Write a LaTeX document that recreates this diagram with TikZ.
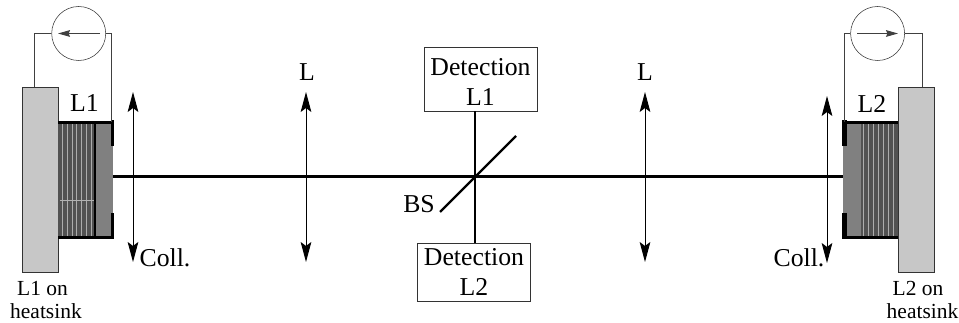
\documentclass[tikz,border=0pt]{standalone}
\usepackage{fontspec}
\setmainfont{Liberation Serif}
\usetikzlibrary{positioning, arrows.meta}

\tikzset{
  sink/.style={draw=black!80, fill=black!22, minimum width=27pt, minimum height=138.75pt, inner sep=0pt},
  chip/.style={fill=black!50, minimum width=13pt, minimum height=87pt, inner sep=0pt},
  stack/.style={fill=black!68, minimum width=28pt, minimum height=87pt, inner sep=0pt},
  pad/.style={fill=black, minimum height=19.5pt, inner sep=0pt},
  meter/.style={circle, draw=black!80, minimum size=40.5pt, inner sep=0pt},
  detbox/.style={draw=black!80, fill=white, inner sep=0pt, minimum width=84.75pt, align=center, font=\fontsize{19.3pt}{22.3pt}\selectfont},
  lens/.style={line width=0.7pt, {Stealth[length=15pt,width=8pt,inset=3pt]}-{Stealth[length=15pt,width=8pt,inset=3pt]}},
  wire/.style={draw=black!75, line width=0.7pt},
  stripe/.style={black!32, line width=0.75pt},
  edge/.style={line width=1.9pt},
  beam/.style={line width=1.6pt},
  big/.style={inner sep=0pt, font=\fontsize{19.3pt}{22pt}\selectfont},
  small/.style={inner sep=0pt, align=left, font=\fontsize{16.1pt}{17.25pt}\selectfont},
}

\begin{document}
\begin{tikzpicture}[x=0.75pt, y=-0.75pt]
  \useasboundingbox (0, 0) rectangle (959, 323);

  % left source
  \node[sink] (sink1) at (40, 179.5) {};
  \node[stack] (stack1) at (76.5, 180) {};
  \foreach \i in {62, 67, 72, 76, 81, 86, 91}
    \draw[stripe] (\i, 123) -- (\i, 237);
  \draw[black!30, line width=0.4pt] (60, 200) -- (95, 200);
  \node[chip] (chip1) at (104, 180) {};
  \draw[line width=1.1pt] (95, 122) -- (95, 238);
  \draw[edge] (58, 122.5) -- (113, 122.5);
  \draw[edge] (58, 237.5) -- (113, 237.5);
  \node[pad, minimum width=2pt] (pad1a) at (112.2, 133) {};
  \node[pad, minimum width=2pt] (pad1b) at (112.2, 226) {};

  % right source
  \node[sink] (sink2) at (916, 179.5) {};
  \node[stack] (stack2) at (879.5, 180) {};
  \foreach \i in {863, 868, 873, 878, 883, 888, 893}
    \draw[stripe] (\i, 123) -- (\i, 237);
  \node[chip] (chip2) at (852, 180) {};
  \draw[edge] (843, 122.5) -- (898, 122.5);
  \draw[edge] (843, 237.5) -- (898, 237.5);
  \node[pad, minimum width=3.75pt] (pad2a) at (844.5, 133) {};
  \node[pad, minimum width=3.75pt] (pad2b) at (844.5, 226) {};

  % meters
  \node[meter] (meter1) at (78.7, 33.5) {};
  \node[meter] (meter2) at (877.6, 33.5) {};
  \coordinate (m1w) at (34, 33.5);
  \coordinate (m1e) at (111, 33.5);
  \coordinate (m2w) at (844, 33.5);
  \coordinate (m2e) at (922, 33.5);
  \draw[wire] (meter1.west) -- (m1w) -- (m1w |- sink1.north);
  \draw[wire] (meter1.east) -- (m1e) -- (m1e |- stack1.north);
  \draw[wire] (meter2.west) -- (m2w) -- (m2w |- stack2.north);
  \draw[wire] (meter2.east) -- (m2e) -- (m2e |- sink2.north);
  \coordinate (a1s) at (100, 33.5);
  \coordinate (a1e) at (58, 33.5);
  \coordinate (a2s) at (857, 33.5);
  \coordinate (a2e) at (898, 33.5);
  \draw[wire, -{Stealth[length=9pt,width=5pt,inset=1pt]}] (a1s) -- (a1e);
  \draw[wire, -{Stealth[length=9pt,width=5pt,inset=1pt]}] (a2s) -- (a2e);

  % detection
  \node[detbox, minimum height=48pt] (det1) at (480.5, 79) {\rule{0pt}{17.5pt}Detection\\L1};
  \node[detbox, minimum height=43.5pt] (det2) at (474, 272) {Detection\\L2};
  \coordinate (bs) at (475, 176.5);
  \coordinate (bsa) at (440, 212);
  \coordinate (bsb) at (516, 136);
  \draw[beam] (chip1.east |- bs) -- (chip2.west |- bs);
  \draw[beam] (bs |- det1.south) -- (bs |- det2.north);
  \draw[beam] (bsa) -- (bsb);

  % lenses
  \coordinate (c1t) at (133, 92);
  \coordinate (c1b) at (133, 262);
  \coordinate (l1t) at (306, 92);
  \coordinate (l1b) at (306, 262);
  \coordinate (l2t) at (645, 92);
  \coordinate (l2b) at (645, 262);
  \coordinate (c2t) at (827, 96);
  \coordinate (c2b) at (827, 263);
  \draw[lens] (c1t) -- (c1b);
  \draw[lens] (l1t) -- (l1b);
  \draw[lens] (l2t) -- (l2b);
  \draw[lens] (c2t) -- (c2b);

  % labels
  \node[big] (lab1) at (84.5, 103.5) {L1};
  \node[big] (lab2) at (872, 103.5) {L2};
  \node[big] (lab3) at (307, 72) {L};
  \node[big] (lab4) at (645, 72) {L};
  \node[big] (lab5) at (419, 204) {BS};
  \node[big] (lab6) at (165, 258) {Coll.};
  \node[big] (lab7) at (799, 258) {Coll.};
  \node[small] (lab8) at (46, 300) {\hspace*{5.25pt}L1 on\\heatsink};
  \node[small] (lab9) at (922.5, 300) {\hspace*{4.5pt}L2 on\\heatsink};
\end{tikzpicture}
\end{document}
